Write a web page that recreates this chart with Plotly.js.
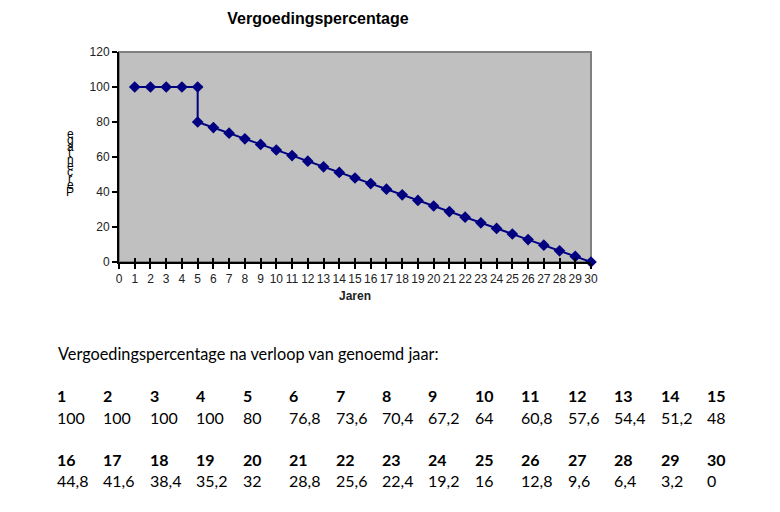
<!DOCTYPE html>
<html>
<head>
<meta charset="utf-8">
<script src="https://cdn.plot.ly/plotly-3.0.1.min.js"></script>
<style>html,body{margin:0;padding:0;background:#fff;}#chart{width:780px;height:512px;}</style>
</head>
<body>
<div id="chart"></div>
<script>
// Chart series (year 5 appears twice: the step from 100 to 80)
var chartYears = [1, 2, 3, 4, 5, 5, 6, 7, 8, 9, 10, 11, 12, 13, 14, 15, 16, 17, 18, 19, 20, 21, 22, 23, 24, 25, 26, 27, 28, 29, 30];
var chartValues = [100, 100, 100, 100, 100, 80, 76.8, 73.6, 70.4, 67.2, 64, 60.8, 57.6, 54.4, 51.2, 48, 44.8, 41.6, 38.4, 35.2, 32, 28.8, 25.6, 22.4, 19.2, 16, 12.8, 9.6, 6.4, 3.2, 0];

// Table below the chart
var tableYears = [1, 2, 3, 4, 5, 6, 7, 8, 9, 10, 11, 12, 13, 14, 15, 16, 17, 18, 19, 20, 21, 22, 23, 24, 25, 26, 27, 28, 29, 30];
var tableValues = ["100", "100", "100", "100", "80", "76,8", "73,6", "70,4", "67,2", "64", "60,8", "57,6", "54,4", "51,2", "48", "44,8", "41,6", "38,4", "35,2", "32", "28,8", "25,6", "22,4", "19,2", "16", "12,8", "9,6", "6,4", "3,2", "0"];

var xTicks = [0,1,2,3,4,5,6,7,8,9,10,11,12,13,14,15,16,17,18,19,20,21,22,23,24,25,26,27,28,29,30];
var yTicks = [0, 20, 40, 60, 80, 100, 120];

var chartTitle = "Vergoedingspercentage";
var xTitle = "Jaren";
var yTitle = "Percentage";
var tableHeading = "Vergoedingspercentage na verloop van genoemd jaar:";

// plot area in pixels
var L = 119, R = 591, T = 52, B = 262;
function px(x) { return (x - L) / (R - L); }
function py(y) { return (B - y) / (B - T); }

var annotations = [];
// y axis label: reversed, stacked letters
var rev = yTitle.split("").reverse();
for (var i = 0; i < rev.length; i++) {
  annotations.push({
    text: rev[i], xref: "paper", yref: "paper", x: px(70), y: py(134 + i * 6.4),
    xanchor: "center", yanchor: "middle", showarrow: false,
    font: {family: "Liberation Sans, Arial, sans-serif", size: 12, color: "#000"}
  });
}
annotations.push({
  text: tableHeading, xref: "paper", yref: "paper", x: px(56), y: py(353),
  xanchor: "left", yanchor: "middle", showarrow: false,
  font: {family: "Lato, sans-serif", size: 16.3, color: "#000"}
});
var rowY = [[395, 417], [459, 481]];
for (var k = 0; k < tableYears.length; k++) {
  var row = Math.floor(k / 15), col = k % 15;
  var xp = 55 + col * 46.43;
  annotations.push({
    text: "<b>" + tableYears[k] + "</b>", xref: "paper", yref: "paper", x: px(xp), y: py(rowY[row][0]),
    xanchor: "left", yanchor: "middle", showarrow: false,
    font: {family: "Lato, sans-serif", size: 16, color: "#000"}
  });
  annotations.push({
    text: tableValues[k], xref: "paper", yref: "paper", x: px(xp), y: py(rowY[row][1]),
    xanchor: "left", yanchor: "middle", showarrow: false,
    font: {family: "Lato, sans-serif", size: 16, color: "#000"}
  });
}

var tickFont = {family: "Liberation Sans, Arial, sans-serif", size: 12, color: "#222"};

var traces = [
  {
    x: chartYears, y: chartValues, type: "scatter", mode: "lines+markers",
    line: {color: "#000080", width: 2},
    marker: {symbol: "diamond", size: 9, color: "#000080"},
    hoverinfo: "x+y", cliponaxis: false
  },
  {
    x: chartYears, y: chartValues, xaxis: "x2", type: "scatter", mode: "markers",
    marker: {opacity: 0}, hoverinfo: "skip", showlegend: false
  }
];

var layout = {
  width: 780, height: 512,
  margin: {l: L, r: 780 - R, t: T, b: 512 - B},
  paper_bgcolor: "#ffffff", plot_bgcolor: "#c0c0c0",
  showlegend: false,
  title: {
    text: "<b>" + chartTitle + "</b>", xref: "paper", x: px(318), xanchor: "center",
    yref: "container", y: 1 - 18 / 512, yanchor: "middle",
    font: {family: "Liberation Sans, Arial, sans-serif", size: 16, color: "#000"}
  },
  xaxis: {
    range: [0, 30], tickvals: xTicks, ticktext: xTicks.map(String),
    ticks: "outside", ticklen: 5, tickwidth: 2, tickcolor: "#000",
    showline: true, linecolor: "#000", linewidth: 2, showgrid: false, zeroline: false,
    tickfont: tickFont,
    title: {text: "<b>" + xTitle + "</b>", standoff: 6, font: {family: "Liberation Sans, Arial, sans-serif", size: 12, color: "#222"}}
  },
  xaxis2: {
    overlaying: "x", range: [0, 30], tickvals: xTicks, showticklabels: false,
    ticks: "inside", ticklen: 4, tickwidth: 2, tickcolor: "#000",
    showline: false, showgrid: false, zeroline: false, side: "bottom"
  },
  yaxis: {
    range: [0, 120], tickvals: yTicks, ticktext: yTicks.map(String),
    ticks: "outside", ticklen: 5, tickwidth: 2, tickcolor: "#000",
    showline: true, linecolor: "#000", linewidth: 2, showgrid: false, zeroline: false,
    tickfont: tickFont
  },
  shapes: [{
    type: "rect", xref: "paper", yref: "paper", x0: 0, x1: 1, y0: 0, y1: 1,
    line: {color: "#808080", width: 2}, fillcolor: "rgba(0,0,0,0)", layer: "below"
  }],
  annotations: annotations
};

Plotly.newPlot("chart", traces, layout, {displayModeBar: false, staticPlot: true});
</script>
</body>
</html>
